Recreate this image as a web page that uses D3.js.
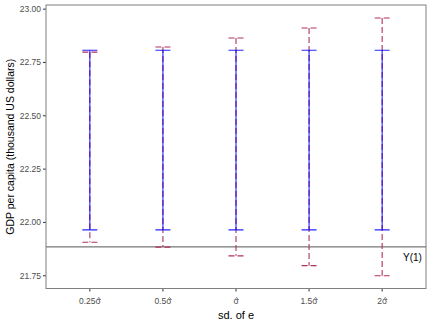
<!DOCTYPE html>
<html>
<head>
<meta charset="utf-8">
<script src="https://cdn.jsdelivr.net/npm/d3@7"></script>
<style>
  body { margin: 0; background: #fff; }
  text { font-family: "Liberation Sans", Arial, sans-serif; }
</style>
</head>
<body>
<svg width="432" height="324"></svg>
<script>
// sd multipliers of e
const categories = ["0.25", "0.5", "", "1.5", "2"]
// blue bars (same for every setting)
const blueLow = [21.963, 21.963, 21.963, 21.963, 21.963]
const blueHigh = [22.805, 22.805, 22.805, 22.805, 22.805]
// red dashed bars
const redLow = [21.905, 21.882, 21.841, 21.795, 21.748]
const redHigh = [22.796, 22.82, 22.862, 22.909, 22.956]
const y1 = 21.883
const yTicks = [21.75, 22.00, 22.25, 22.50, 22.75, 23.00]

const svg = d3.select("svg")
const margin = { left: 46, right: 6, top: 5, bottom: 35.5 }
const W = 432, H = 324

// ggplot discrete expand: 0.6 units each side
const x = d3.scalePoint()
    .domain(d3.range(categories.length))
    .range([margin.left, W - margin.right])
    .padding(0.6)
const xc = i => x(i)

const y = d3.scaleLinear()
    .domain([21.688, 23.017])
    .range([H - margin.bottom, margin.top])

const g = svg.append("g")

// y ticks
const yAxis = g.append("g")
    .attr("transform", `translate(${margin.left},0)`)
    .call(d3.axisLeft(y).tickValues(yTicks).tickFormat(d3.format(".2f")).tickSize(3).tickPadding(2))
yAxis.select(".domain").remove()
yAxis.selectAll("line").attr("stroke", "#333")
yAxis.selectAll("text").attr("fill", "#4d4d4d").attr("font-size", 8.5)

// x ticks
const xAxis = g.append("g")
    .attr("transform", `translate(0,${H - margin.bottom})`)
xAxis.selectAll("line").data(categories).join("line")
    .attr("x1", (d, i) => xc(i)).attr("x2", (d, i) => xc(i))
    .attr("y1", 0).attr("y2", 3).attr("stroke", "#333")
const xt = xAxis.selectAll("text").data(categories).join("text")
    .attr("x", (d, i) => xc(i)).attr("y", 15.5)
    .attr("text-anchor", "middle")
    .attr("fill", "#4d4d4d").attr("font-size", 8.5)
    .text(d => d + "\u03C3")

// hats over sigma
const probe = xAxis.append("text").attr("font-size", 8.5).text("\u03C3")
const sigW = probe.node().getComputedTextLength()
probe.remove()
xt.each(function () {
    const b = this.getBBox()
    const hx = b.x + b.width - sigW / 2
    xAxis.append("path")
        .attr("d", `M${hx - 1.8},${11.3}L${hx},${8.8}L${hx + 1.8},${11.3}`)
        .attr("fill", "none").attr("stroke", "#4d4d4d").attr("stroke-width", 0.6)
})

// Y(1) reference line
g.append("line")
    .attr("x1", margin.left).attr("x2", W - margin.right)
    .attr("y1", y(y1)).attr("y2", y(y1))
    .attr("stroke", "#555").attr("stroke-width", 1)
g.append("text")
    .attr("x", 403).attr("y", y(y1) + 14.5)
    .attr("fill", "#000").attr("font-size", 10)
    .text("Y(1)")

const capW = 7.5

function errorbars(low, high, color, dash, opacity) {
    const eb = g.append("g")
        .attr("stroke", color)
        .attr("stroke-width", 1.1)
        .attr("stroke-dasharray", dash)
        .attr("opacity", opacity)
        .attr("fill", "none")
    low.forEach((lo, i) => {
        const cx = xc(i)
        eb.append("path")
            .attr("d", `M${cx - capW},${y(high[i])}H${cx + capW}M${cx},${y(high[i])}V${y(lo)}M${cx - capW},${y(lo)}H${cx + capW}`)
    })
}

errorbars(redLow, redHigh, "#b03060", "6,3", 1)
errorbars(blueLow, blueHigh, "#0000ff", null, 0.85)

// panel border
g.append("rect")
    .attr("x", margin.left).attr("y", margin.top)
    .attr("width", W - margin.right - margin.left)
    .attr("height", H - margin.bottom - margin.top)
    .attr("fill", "none").attr("stroke", "#7f7f7f").attr("stroke-width", 1)

// titles
svg.append("text")
    .attr("x", (margin.left + W - margin.right) / 2).attr("y", 319)
    .attr("text-anchor", "middle").attr("font-size", 11)
    .text("sd. of e")
svg.append("text")
    .attr("transform", `translate(14,${(margin.top + H - margin.bottom) / 2}) rotate(-90)`)
    .attr("text-anchor", "middle").attr("font-size", 10.5)
    .text("GDP per capita (thousand US dollars)")
</script>
</body>
</html>
